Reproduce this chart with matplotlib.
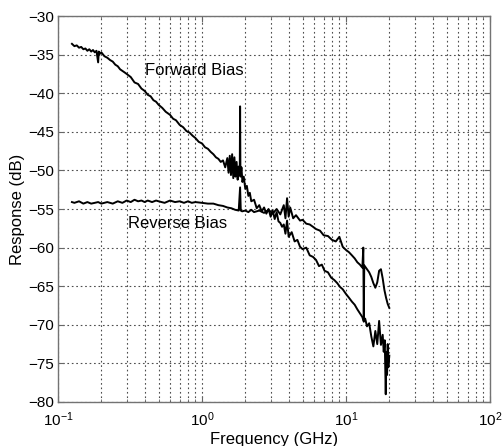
import matplotlib
matplotlib.use("Agg")
import matplotlib.pyplot as plt
from matplotlib.ticker import LogLocator, NullFormatter

plt.rcParams['font.family'] = ['Liberation Sans', 'DejaVu Sans']
plt.rcParams['mathtext.fontset'] = 'custom'
plt.rcParams['mathtext.rm'] = 'Liberation Sans'
plt.rcParams['mathtext.it'] = 'Liberation Sans'

# (frequency GHz, response dB)
forward_bias = [
    (0.125, -33.6), (0.13, -33.9), (0.135, -33.8), (0.14, -34.1), (0.145, -34.0),
    (0.15, -34.3), (0.155, -34.2), (0.16, -34.5), (0.165, -34.3), (0.17, -34.6),
    (0.175, -34.4), (0.18, -34.7), (0.185, -34.5), (0.19, -36.0), (0.192, -34.6),
    (0.195, -34.9), (0.2, -34.7), (0.21, -35.2), (0.22, -35.4), (0.23, -35.7),
    (0.24, -35.9), (0.25, -36.3), (0.26, -36.5), (0.27, -36.9), (0.28, -37.1),
    (0.29, -37.3), (0.3, -37.5), (0.32, -37.9), (0.34, -38.6), (0.36, -38.8),
    (0.38, -39.4), (0.4, -39.7), (0.42, -40.2), (0.44, -40.4), (0.46, -40.9),
    (0.48, -41.1), (0.5, -41.5), (0.53, -41.9), (0.56, -42.4), (0.6, -42.8),
    (0.63, -43.3), (0.66, -43.5), (0.7, -44.1), (0.74, -44.4), (0.78, -44.9),
    (0.82, -45.1), (0.86, -45.5), (0.9, -45.8), (0.95, -46.3), (1.0, -46.5),
    (1.05, -47.0), (1.1, -47.2), (1.15, -47.6), (1.2, -47.9), (1.25, -48.3),
    (1.3, -48.5), (1.35, -48.9), (1.4, -48.7), (1.45, -49.6), (1.5, -48.4),
    (1.53, -50.3), (1.56, -48.1), (1.59, -50.6), (1.62, -47.9), (1.65, -51.0),
    (1.68, -48.3), (1.71, -50.8), (1.74, -48.9), (1.77, -51.2), (1.8, -49.5),
    (1.83, -50.5), (1.84, -41.7), (1.85, -50.8), (1.88, -49.6), (1.91, -51.5),
    (1.95, -50.8), (2.0, -52.4), (2.05, -52.0), (2.1, -53.3), (2.15, -52.9),
    (2.2, -54.0), (2.3, -53.8), (2.4, -54.9), (2.5, -54.5), (2.6, -55.3),
    (2.7, -54.8), (2.8, -55.6), (2.9, -55.0), (3.0, -56.0), (3.1, -55.2),
    (3.2, -56.3), (3.3, -55.4), (3.4, -56.6), (3.5, -56.8), (3.6, -57.3),
    (3.7, -57.0), (3.8, -58.2), (3.9, -56.5), (4.0, -58.6), (4.2, -58.0),
    (4.4, -59.2), (4.6, -59.0), (4.8, -59.9), (5.0, -60.2), (5.3, -60.0),
    (5.6, -61.0), (5.9, -61.2), (6.2, -61.6), (6.5, -62.4), (6.8, -62.2),
    (7.1, -63.0), (7.5, -63.2), (7.9, -63.9), (8.3, -64.2), (8.7, -64.6),
    (9.1, -65.1), (9.5, -65.4), (10.0, -66.0), (10.5, -66.5), (11.0, -67.0),
    (11.5, -67.4), (12.0, -68.0), (12.5, -68.5), (13.0, -69.0), (13.3, -69.6),
    (13.6, -69.2), (14.0, -70.2), (14.5, -69.8), (15.0, -71.5), (15.5, -72.8),
    (16.0, -70.8), (16.5, -72.5), (17.0, -69.5), (17.5, -72.6), (18.0, -71.3),
    (18.3, -73.5), (18.6, -72.0), (18.9, -79.0), (19.1, -73.5), (19.3, -76.5),
    (19.5, -72.5), (19.7, -75.5), (20.0, -74.0),
]

reverse_bias = [
    (0.125, -54.1), (0.13, -54.2), (0.14, -54.0), (0.15, -54.3), (0.16, -54.1),
    (0.17, -54.3), (0.18, -54.2), (0.19, -54.1), (0.2, -54.3), (0.22, -54.1),
    (0.24, -54.3), (0.26, -54.0), (0.28, -54.2), (0.3, -53.9), (0.32, -54.1),
    (0.34, -53.8), (0.36, -54.0), (0.38, -53.9), (0.4, -54.1), (0.42, -53.9),
    (0.45, -54.1), (0.48, -53.9), (0.5, -54.0), (0.55, -54.2), (0.6, -53.9),
    (0.65, -54.1), (0.7, -54.0), (0.75, -54.2), (0.8, -54.0), (0.85, -54.2),
    (0.9, -54.1), (1.0, -54.2), (1.1, -54.3), (1.2, -54.3), (1.3, -54.5),
    (1.4, -54.6), (1.5, -54.8), (1.6, -54.9), (1.7, -55.1), (1.8, -55.2),
    (1.84, -52.2), (1.86, -55.2), (1.9, -55.3), (2.0, -55.2), (2.1, -55.4),
    (2.2, -55.1), (2.3, -55.4), (2.5, -55.2), (2.7, -55.5), (2.9, -55.1),
    (3.1, -55.6), (3.3, -55.0), (3.5, -55.7), (3.7, -54.5), (3.8, -56.2),
    (3.9, -53.6), (4.0, -56.0), (4.1, -54.8), (4.3, -56.2), (4.5, -55.8),
    (4.8, -56.5), (5.0, -56.4), (5.3, -56.9), (5.6, -57.0), (5.9, -57.3),
    (6.2, -57.6), (6.6, -57.8), (7.0, -58.4), (7.5, -58.5), (8.0, -59.0),
    (8.5, -59.2), (9.0, -58.6), (9.5, -59.9), (10.0, -60.3), (10.5, -60.6),
    (11.0, -61.0), (11.5, -61.4), (12.0, -61.9), (12.5, -62.2), (13.0, -62.6),
    (13.2, -60.0), (13.3, -69.5), (13.4, -62.3), (14.0, -62.8), (14.5, -63.2),
    (15.0, -63.8), (15.5, -64.6), (16.0, -65.2), (16.5, -64.5), (17.0, -63.0),
    (17.5, -62.8), (18.0, -64.0), (18.5, -65.5), (19.0, -66.5), (19.5, -67.3),
    (20.0, -67.8),
]

x_limits = (0.1, 100)
y_limits = (-80, -30)
y_ticks = [-80, -75, -70, -65, -60, -55, -50, -45, -40, -35, -30]

fig = plt.figure(figsize=(5.03, 4.46), dpi=100)
ax = fig.add_axes([0.1153, 0.0987, 0.8587, 0.8653])

for series in (forward_bias, reverse_bias):
    fx = [p[0] for p in series]
    fy = [p[1] for p in series]
    ax.plot(fx, fy, color='black', lw=1.4)

ax.set_xscale('log')
ax.set_xlim(*x_limits)
ax.set_ylim(*y_limits)
ax.set_yticks(y_ticks)
ax.xaxis.set_major_locator(LogLocator(base=10, numticks=10))
ax.xaxis.set_minor_locator(LogLocator(base=10, subs=range(2, 10), numticks=20))
ax.xaxis.set_minor_formatter(NullFormatter())

ax.grid(True, which='major', axis='both', color='0.3', linestyle=(0, (1.5, 2.5)), lw=0.8)
ax.grid(True, which='minor', axis='x', color='0.3', linestyle=(0, (1.5, 2.5)), lw=0.8)

ax.tick_params(which='both', direction='in', top=True, right=True, color='0.4')
ax.tick_params(which='major', length=4)
ax.tick_params(which='minor', length=2)
ax.tick_params(axis='y', labelsize=11, pad=3)
ax.tick_params(axis='x', labelsize=11, pad=6)
for s in ax.spines.values():
    s.set_color('0.45')
    s.set_linewidth(1.0)

ax.text(0.40, -37.0, 'Forward Bias', fontsize=12, va='center', ha='left')
ax.text(0.306, -56.9, 'Reverse Bias', fontsize=12, va='center', ha='left')

ax.set_xlabel('Frequency (GHz)', fontsize=12, labelpad=2)
ax.set_ylabel('Response (dB)', fontsize=12, labelpad=2)

fig.savefig('out.png', dpi=100)
